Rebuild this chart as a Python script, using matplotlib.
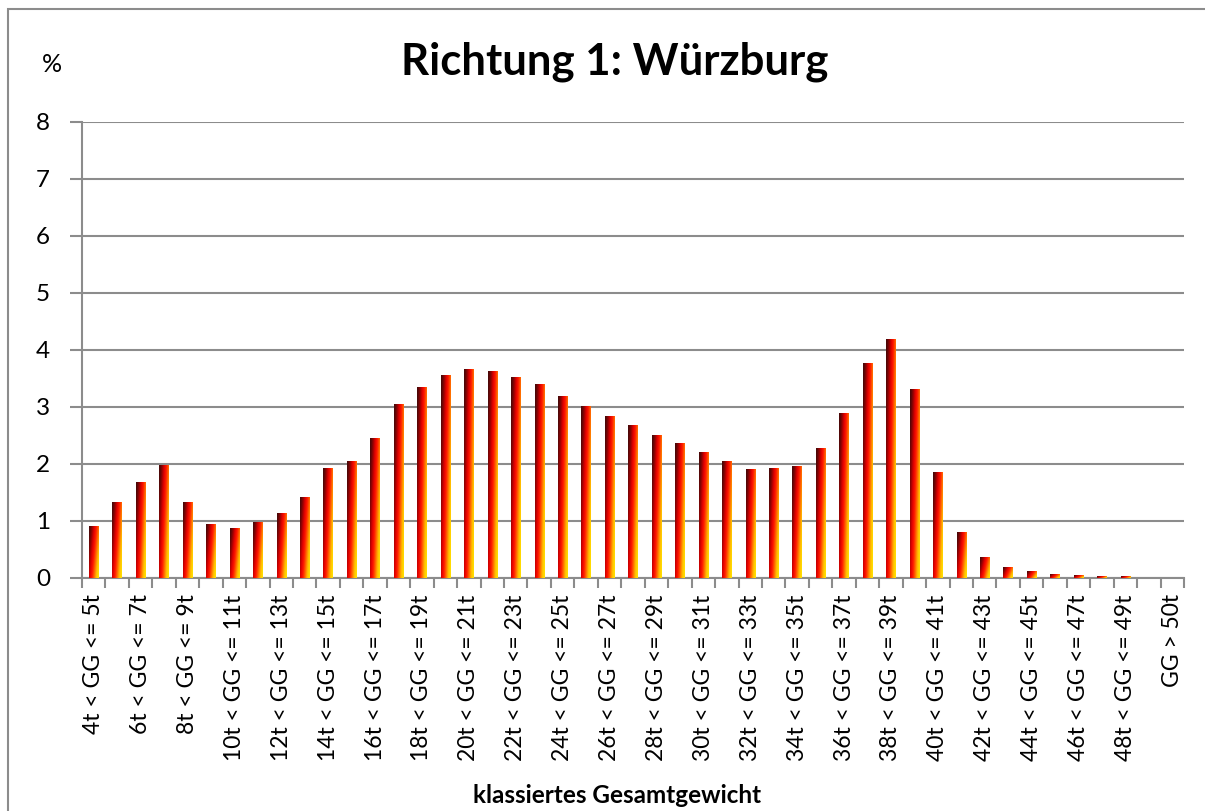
import numpy as np
import matplotlib
matplotlib.use("Agg")
import matplotlib.pyplot as plt
from matplotlib.colors import LinearSegmentedColormap

plt.rcParams['font.family'] = ['Lato', 'DejaVu Sans']

# weight classes (lower bound in t), last class is open-ended
lower = list(range(4, 50))
categories = ["%dt < GG <= %dt" % (lo, lo + 1) for lo in lower] + ["GG > 50t"]

# share of vehicles per class in percent
values = [0.90, 1.32, 1.68, 1.98, 1.32, 0.94, 0.87, 0.97, 1.13, 1.41,
          1.92, 2.04, 2.45, 3.05, 3.35, 3.56, 3.66, 3.63, 3.52, 3.40,
          3.19, 3.01, 2.83, 2.68, 2.50, 2.36, 2.20, 2.04, 1.90, 1.92,
          1.96, 2.27, 2.89, 3.76, 4.19, 3.31, 1.86, 0.80, 0.36, 0.19,
          0.12, 0.07, 0.05, 0.03, 0.03, 0.00, 0.00]

fire = LinearSegmentedColormap.from_list(
    "fire", ["#4a0808", "#8e0303", "#e00000", "#ff1a00", "#ff6a00", "#ffc000", "#ffe000"])

fig = plt.figure(figsize=(12.05, 8.11), dpi=100)
ax = fig.add_axes([0.068, 0.2877, 0.9146, 0.5619])

x = np.arange(len(categories))
bars = ax.bar(x, values, width=0.4, color="none", zorder=3)

# gradient fill: dark on the left/top, yellow on the right/bottom
gx, gy = np.meshgrid(np.linspace(0, 1, 20), np.linspace(0, 1, 60))
grad = np.clip(0.72 * gx + 0.35 * gy - 0.05, 0, 1)
for b in bars:
    h = b.get_height()
    if h <= 0:
        continue
    x0 = b.get_x()
    im = ax.imshow(grad, cmap=fire, aspect="auto", origin="upper",
                   extent=[x0, x0 + b.get_width(), 0, h], zorder=3,
                   interpolation="bilinear", vmin=0, vmax=1)
    im.set_clip_path(b)

ax.set_xlim(-0.5, len(categories) - 0.5)
ax.set_ylim(0, 8)
ax.set_yticks(range(0, 9))
ax.yaxis.grid(True, color="#8c8c8c", linewidth=1.5, zorder=0)
ax.set_axisbelow(True)

# labels on every second class, tick marks on the class borders
ax.set_xticks(x[::2])
ax.set_xticklabels(categories[::2], rotation=90, va="top", ha="center")
ax.set_xticks(np.arange(-0.5, len(categories)), minor=True)
ax.tick_params(axis="x", which="major", length=0, pad=12, labelsize=16.5)
ax.tick_params(axis="x", which="minor", length=7, width=1.5, color="#8c8c8c")
ax.tick_params(axis="y", length=9, width=1.5, color="#8c8c8c", pad=14, labelsize=17.5)

for side in ["top", "right"]:
    ax.spines[side].set_visible(False)
for side in ["left", "bottom"]:
    ax.spines[side].set_color("#8c8c8c")
    ax.spines[side].set_linewidth(1.5)

fig.text(0.51, 0.924, "Richtung 1: Würzburg", ha="center", va="center",
         fontsize=31.5, fontweight="bold")
fig.text(0.043, 0.921, "%", ha="center", va="center", fontsize=18)
fig.text(0.512, 0.019, "klassiertes Gesamtgewicht", ha="center", va="center",
         fontsize=17.5, fontweight="bold")

# outer chart frame
fig.patches.append(plt.Rectangle((0.0066, -0.01), 1.0, 0.9988, transform=fig.transFigure,
                                 fill=False, edgecolor="#8c8c8c", linewidth=1.5))

fig.savefig("out.png", dpi=100)
